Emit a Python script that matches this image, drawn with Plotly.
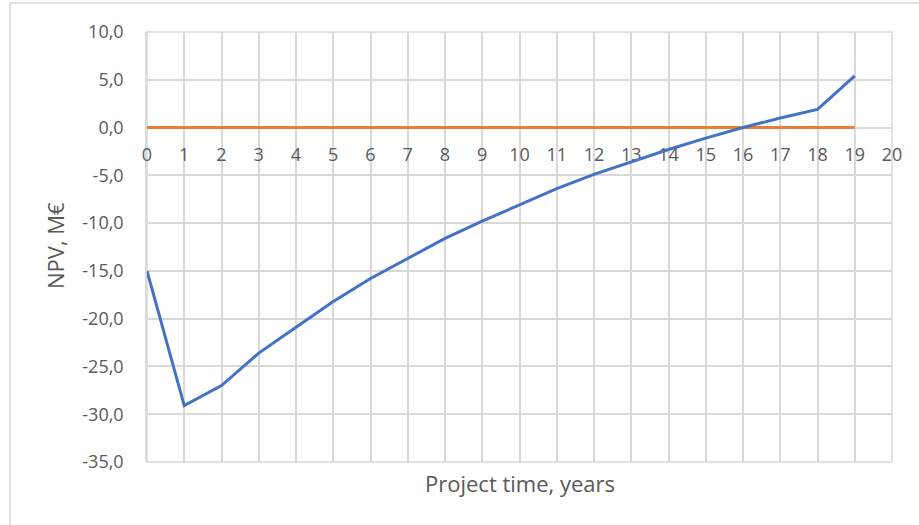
import plotly.graph_objects as go

# Project timeline (years) and cumulative net present value (M€)
years = list(range(0, 20))
npv = [-15.0, -29.1, -27.0, -23.6, -20.9, -18.2, -15.8, -13.7, -11.6, -9.8,
       -8.1, -6.4, -4.9, -3.6, -2.3, -1.1, 0.0, 1.0, 1.9, 5.4]
breakeven = [0.0] * len(years)

x_ticks = list(range(0, 21))
y_ticks = [10, 5, 0, -5, -10, -15, -20, -25, -30, -35]
y_ticktext = [f"{v:.1f}".replace(".", ",") for v in y_ticks]

W, H = 919, 525
L, R, T, B = 147, 27, 32, 63
plot_w = W - L - R
plot_h = H - T - B

y_min, y_max = -35, 10
text_color = "#595959"
grid_color = "#D9D9D9"
font_family = "'Open Sans', Lato, sans-serif"

fig = go.Figure()
fig.add_trace(go.Scatter(x=years, y=breakeven, mode="lines",
                         line=dict(color="#ED7D31", width=3), showlegend=False,
                         hoverinfo="skip"))
fig.add_trace(go.Scatter(x=years, y=npv, mode="lines",
                         line=dict(color="#4472C4", width=3), showlegend=False))

# x axis drawn through y = 0 (crossing point inside the plot)
zero_frac = (0 - y_min) / (y_max - y_min)

fig.update_layout(
    width=W, height=H,
    margin=dict(l=L, r=R, t=T, b=B),
    paper_bgcolor="white", plot_bgcolor="white",
    font=dict(family=font_family, size=18, color=text_color),
    xaxis=dict(range=[0, 20], tickvals=x_ticks, showgrid=True,
               gridcolor=grid_color, gridwidth=1.5, zeroline=False,
               showline=True, linecolor=grid_color, linewidth=1.5,
               layer="below traces",
               anchor="free", position=zero_frac, ticks="outside",
               ticklen=11, tickcolor="rgba(0,0,0,0)",
               tickfont=dict(size=18, color=text_color)),
    yaxis=dict(range=[y_min, y_max], tickvals=y_ticks, ticktext=y_ticktext,
               showgrid=True, gridcolor=grid_color, gridwidth=1.5,
               zeroline=False, showline=True, linecolor=grid_color,
               linewidth=1.5, layer="below traces", ticks="outside",
               ticklen=18, tickcolor="rgba(0,0,0,0)",
               tickfont=dict(size=18, color=text_color)),
    shapes=[
        # outer chart border
        dict(type="rect", xref="paper", yref="paper",
             x0=(10 - L) / plot_w, x1=(W + 5 - L) / plot_w,
             y0=-(H + 5 - T - plot_h) / plot_h, y1=(plot_h + T - 3) / plot_h,
             line=dict(color="#D9D9D9", width=1.5), layer="below"),
        # frame line on the right and bottom of the plot area
        dict(type="rect", xref="paper", yref="paper", x0=0, x1=1, y0=0, y1=1,
             line=dict(color=grid_color, width=1.5), layer="below"),
    ],
    annotations=[
        dict(text="Project time, years", xref="paper", yref="paper",
             x=0.5, y=-(483 - T - plot_h) / plot_h, showarrow=False,
             xanchor="center", yanchor="middle",
             font=dict(size=22, color=text_color)),
        dict(text="NPV, M€", xref="paper", yref="paper", textangle=-90,
             x=(55 - L) / plot_w, y=1 - (246 - T) / plot_h, showarrow=False,
             xanchor="center", yanchor="middle",
             font=dict(size=22, color=text_color)),
    ],
)

fig.write_html("out.html")
